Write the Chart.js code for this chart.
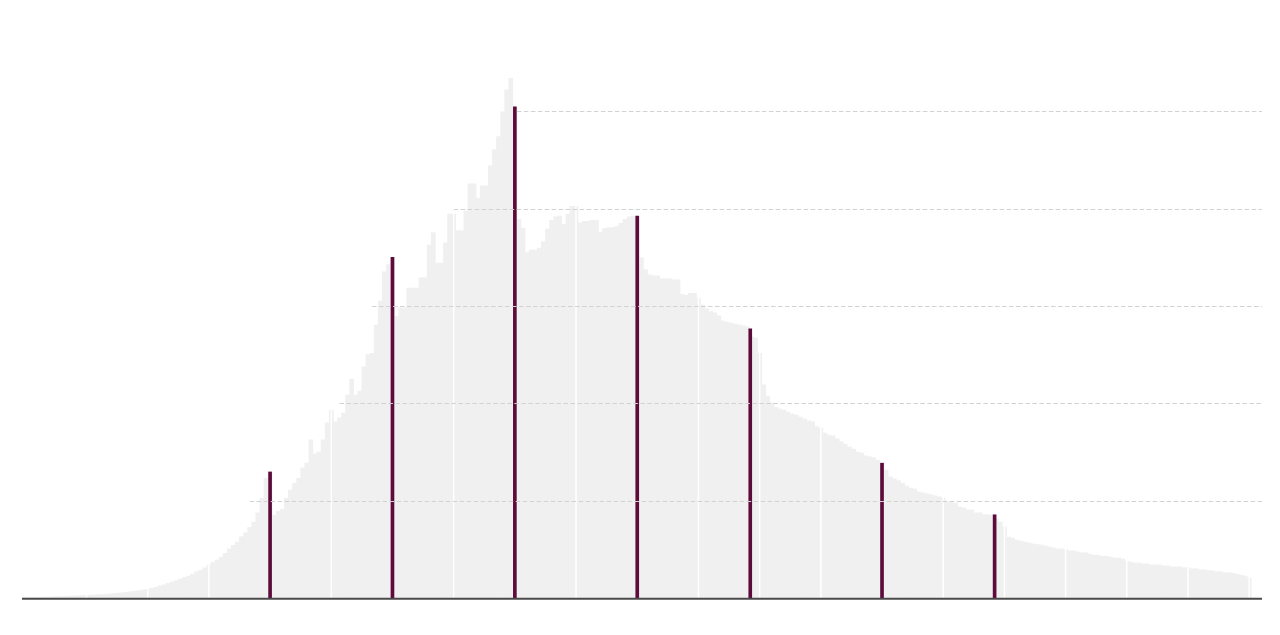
<!DOCTYPE html>
<html>
<head>
<meta charset="utf-8">
<style>
  html, body { margin: 0; padding: 0; background: #fff; }
</style>
<script src="https://cdn.jsdelivr.net/npm/chart.js@4/dist/chart.umd.min.js"></script>
</head>
<body>
<canvas id="myChart" width="1280" height="635"></canvas>
<script>
// values per day
var counts = [
  0.1,0.1,0.1,0.15,0.15,0.2,0.2,0.25,0.3,0.3,
  0.35,0.4,0.4,0.45,0.5,0.55,0.6,0.65,0.7,0.75,
  0.8,0.85,0.95,1.0,1.1,1.2,1.3,1.4,1.5,1.65,
  1.8,2.0,2.2,2.5,2.7,3.0,3.3,3.6,3.9,4.2,
  4.5,4.9,5.4,5.7,6.2,6.8,7.3,7.8,8.4,9.2,
  10.1,10.8,11.5,12.6,13.4,14.5,15.6,17.5,20.5,24.6,
  25.9,17,17.8,18.2,20.5,22.2,23.6,24.6,26.7,27.7,
  32.5,29.6,30.0,32.5,36,38.6,36.2,37,38,41.7,
  45,41.7,42.5,47.5,50,50.3,56.1,61,67,68.5,
  70,57.9,59.6,59.6,63.7,63.7,63.7,65.8,65.8,72.5,
  75.1,68.8,68.8,73,78.9,78.9,75.5,75.5,79.5,85.1,
  85.1,82.2,84.7,84.7,88.8,92.1,94.8,99.9,104.4,106.8,
  100.9,77.8,76,71,71.5,71.5,71.9,73.2,75.8,77.6,
  78.3,78.5,76.8,78.9,80.5,80.5,77.1,77.4,77.4,77.6,
  77.6,75.1,75.9,76.1,76.1,76.3,77,77.8,78.3,78.5,
  78.5,69.9,67.5,66.4,66.2,66.2,65.6,65.6,65.6,65.4,
  65.4,62.4,62.2,62.6,62.6,61.6,60.2,59.4,58.8,58.6,
  58.0,56.9,56.7,56.5,56.3,56.1,55.9,55.7,53.6,53.4,
  50.3,43.8,41.5,40.1,39.2,38.8,38.6,38.2,37.8,37.6,
  37.2,36.8,36.4,36.2,35.2,34.9,33.9,33.5,33.3,32.7,
  32.1,31.6,31.0,30.6,30.0,29.8,29.2,29.0,28.8,28.3,
  27.7,26.3,24.9,24.5,24.1,23.6,23.0,22.6,22.4,21.8,
  21.6,21.4,21.2,21.0,20.8,20.6,19.7,19.7,19.5,18.7,
  18.5,18.1,18.1,17.5,17.5,17.1,17.1,17.0,16.2,15.6,
  14.6,12.5,12.3,11.9,11.7,11.5,11.3,11.1,11.0,10.9,
  10.7,10.5,10.3,10.1,10.1,9.9,9.7,9.7,9.5,9.3,
  9.3,9.0,8.8,8.8,8.6,8.6,8.4,8.2,8.2,8.0,
  7.6,7.4,7.2,7.2,7.0,7.0,6.8,6.8,6.8,6.6,
  6.6,6.4,6.4,6.4,6.2,6.2,6.0,6.0,5.8,5.8,
  5.6,5.6,5.4,5.4,5.2,5.2,5.1,4.9,4.7,4.5,4.1
];
var markerDays = [60, 90, 120, 150, 177.7, 210, 237.6];
var markerValues = [25.9, 70.0, 100.9, 78.5, 55.3, 27.7, 17.1];
var gridValues = [20, 40, 60, 80, 100];
var gridFromDays = [55, 77, 85, 105, 120.5];
var vGridStep = 15;

var days = [];
for (var i = 0; i < counts.length; i++) {
  days.push(i);
}
var barData = days.map(function(d, i){ return {x: d, y: counts[i]}; });
var markerData = markerDays.map(function(d, i){ return {x: d, y: markerValues[i]}; });

var guides = {
  id: 'guides',
  afterDatasetDraw: function(chart, args) {
    // white day lines over the grey bars, under the markers
    if (args.index !== 1) return;
    var ctx = chart.ctx, area = chart.chartArea, xs = chart.scales.x;
    ctx.save();
    ctx.strokeStyle = '#ffffff';
    ctx.lineWidth = 1.5;
    for (var v = vGridStep; v < xs.max; v += vGridStep) {
      var px = xs.getPixelForValue(v);
      ctx.beginPath();
      ctx.moveTo(px, area.top);
      ctx.lineTo(px, area.bottom);
      ctx.stroke();
    }
    ctx.restore();
  },
  afterDatasetsDraw: function(chart) {
    var ctx = chart.ctx, area = chart.chartArea, xs = chart.scales.x, ys = chart.scales.y;
    ctx.save();
    ctx.strokeStyle = '#d2d2d2';
    ctx.lineWidth = 1;
    ctx.setLineDash([4.5, 2.5]);
    gridValues.forEach(function(v, i){
      var py = Math.round(ys.getPixelForValue(v)) + 0.5;
      ctx.beginPath();
      ctx.moveTo(xs.getPixelForValue(gridFromDays[i]), py);
      ctx.lineTo(area.right, py);
      ctx.stroke();
    });
    ctx.setLineDash([]);
    ctx.strokeStyle = '#4a4a4a';
    ctx.lineWidth = 2;
    ctx.beginPath();
    ctx.moveTo(area.left, area.bottom + 0.8);
    ctx.lineTo(area.right, area.bottom + 0.8);
    ctx.stroke();
    ctx.restore();
  }
};

var myChart = document.getElementById('myChart').getContext('2d');
var barChart = new Chart(myChart, {
  type: 'bar',
  data: {
    datasets: [{
      data: markerData,
      xAxisID: 'x2',
      backgroundColor: '#5c0b3b',
      barThickness: 3,
      grouped: false,
      order: 0
    }, {
      data: barData,
      xAxisID: 'x',
      backgroundColor: '#f0f0f0',
      barPercentage: 1,
      categoryPercentage: 1,
      borderWidth: 0,
      grouped: false,
      order: 1
    }]
  },
  options: {
    responsive: false,
    animation: false,
    devicePixelRatio: 1,
    layout: { padding: { left: 22, right: 18, top: 14, bottom: 37 } },
    plugins: { legend: { display: false }, tooltip: { enabled: false } },
    scales: {
      x: { type: 'linear', min: -0.81, max: 303.14, offset: false, display: false },
      x2: { type: 'linear', min: -0.81, max: 303.14, offset: false, display: false },
      y: { min: 0, max: 120, display: false }
    }
  },
  plugins: [guides]
});
</script>
</body>
</html>
